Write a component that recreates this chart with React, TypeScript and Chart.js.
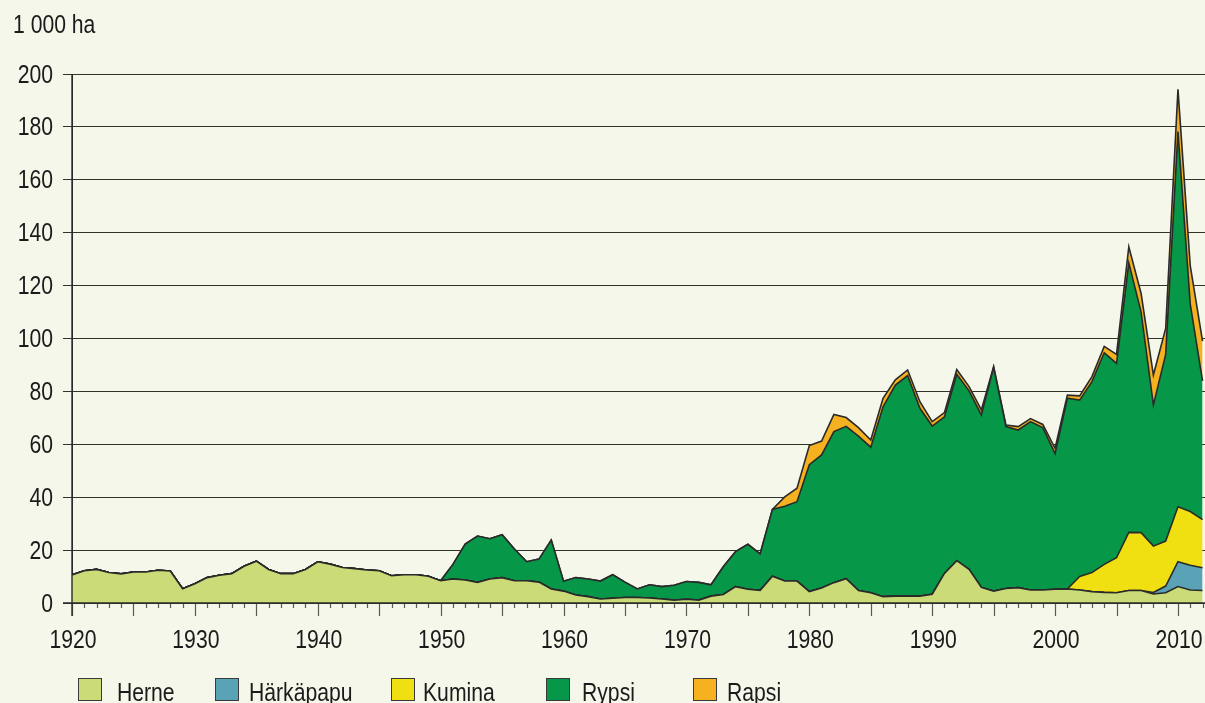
import { useEffect, useRef } from 'react';
import { Chart, registerables } from 'chart.js';

Chart.register(...registerables);

// ---------- data ----------
const FIRST_YEAR = 1920;
const LAST_YEAR = 2012;
const years: number[] = [];
for (let y = FIRST_YEAR; y <= LAST_YEAR; y++) years.push(y);

const seriesNames = ['Herne', 'Härkäpapu', 'Kumina', 'Rypsi', 'Rapsi'];
const seriesColors = ['#cbdb78', '#5aa3b7', '#f0e011', '#069748', '#f5b11f'];

// 1 000 ha, 1920–2012
const herne = [
  10.6, 12.2, 12.7, 11.5, 11.0, 11.7, 11.7, 12.4, 12.1, 5.4,
  7.3, 9.6, 10.5, 11.1, 13.9, 15.8, 12.7, 11.1, 11.1, 12.7,
  15.6, 14.7, 13.4, 13.0, 12.5, 12.2, 10.3, 10.7, 10.7, 10.1,
  8.4, 9.1, 8.7, 7.8, 9.1, 9.6, 8.4, 8.4, 7.9, 5.3,
  4.5, 3.0, 2.4, 1.5, 1.8, 2.1, 2.1, 1.9, 1.5, 1.1,
  1.4, 1.1, 2.6, 3.2, 6.2, 5.2, 4.8, 10.1, 8.3, 8.3,
  4.3, 5.7, 7.7, 9.2, 4.7, 3.9, 2.4, 2.6, 2.6, 2.6,
  3.3, 11.2, 16.0, 12.7, 5.9, 4.5, 5.5, 5.8, 4.9, 4.9,
  5.2, 5.3, 4.9, 4.3, 4.0, 3.9, 4.7, 4.7, 3.4, 3.9,
  6.2, 4.9, 4.7,
];

// Härkäpapu, 2007–2012
const harkapapuStart = 2007;
const harkapapu = [0, 0.6, 2.5, 9.4, 9.4, 8.6];

// Kumina, 2001–2012
const kuminaStart = 2001;
const kumina = [0, 5.1, 7.2, 10.6, 13.2, 22.0, 21.9, 17.5, 17.0, 20.8, 20.3, 18.2];

// Rypsi, 1950–2012
const rypsiStart = 1950;
const rypsi = [
  0, 5.5, 13.6, 17.5, 15.2, 16.2, 12.0, 7.2, 8.7, 18.5,
  3.7, 6.6, 6.7, 6.8, 8.9, 5.8, 3.2, 5.0, 4.7, 5.6,
  6.7, 6.7, 4.3, 10.5, 13.2, 17.0, 13.8, 25.3, 28.3, 30.0,
  48.0, 50.3, 57.1, 57.6, 58.4, 55.0, 71.8, 79.8, 83.4, 71.0,
  63.6, 59.2, 70.5, 67.5, 65.2, 84.6, 61.2, 59.6, 63.7, 61.4,
  51.3, 72.1, 66.7, 72.2, 80.0, 73.5, 101.9, 83.4, 53.4, 70.6,
  141.8, 78.4, 52.5,
];

// Rapsi, 1977–2012
const rapsiStart = 1977;
const rapsi = [
  0, 3.5, 5.1, 7.2, 5.2, 6.5, 3.3, 3.2, 2.7, 3.2,
  2.0, 2.1, 2.5, 1.7, 1.6, 1.8, 1.6, 1.9, 0.3, 0.6,
  1.3, 1.1, 1.2, 2.0, 1.2, 1.6, 1.9, 2.4, 3.4, 6.1,
  7.0, 11.3, 9.8, 16.0, 14.5, 15.0,
];

const yTickValues = [0, 20, 40, 60, 80, 100, 120, 140, 160, 180, 200];
const xTickValues = [1920, 1930, 1940, 1950, 1960, 1970, 1980, 1990, 2000, 2010];
const unitLabel = '1 000 ha';

// ---------- helpers ----------
const FONT = "'Liberation Sans', Arial, sans-serif";
const FONT_SIZE = 25.5;
const CONDENSE = 0.83;
const TEXT = '#1b1b1b';
const LINE = '#2a2a2a';
const BG = '#f4f7e9';

function toPoints(values: number[], start: number) {
  return years.map((yr) => {
    const idx = yr - start;
    const v = idx >= 0 && idx < values.length ? values[idx] : 0;
    return { x: yr, y: v };
  });
}

function drawText(ctx: CanvasRenderingContext2D, text: string, x: number, y: number, align: CanvasTextAlign) {
  ctx.save();
  ctx.translate(x, y);
  ctx.scale(CONDENSE, 1);
  ctx.textAlign = align;
  ctx.textBaseline = 'alphabetic';
  ctx.fillText(text, 0, 0);
  ctx.restore();
}

const decorPlugin = {
  id: 'decor',
  afterDatasetsDraw(chart: any) {
    const { ctx, chartArea, scales } = chart;
    const xs = scales.x;
    const ys = scales.y;
    const y0 = ys.getPixelForValue(0);
    ctx.save();
    // tick marks on x axis
    ctx.strokeStyle = '#5a5a52';
    ctx.lineWidth = 1.2;
    for (const yr of years) {
      const px = Math.round(xs.getPixelForValue(yr)) + 0.5;
      const len = yr % 5 === 0 ? 13 : 5;
      ctx.beginPath();
      ctx.moveTo(px, y0);
      ctx.lineTo(px, y0 + len);
      ctx.stroke();
    }
    // baseline
    ctx.strokeStyle = LINE;
    ctx.lineWidth = 1.4;
    ctx.beginPath();
    ctx.moveTo(chartArea.left - 9, y0);
    ctx.lineTo(chartArea.right, y0);
    ctx.stroke();
    // y axis line
    ctx.beginPath();
    ctx.moveTo(chartArea.left, chartArea.top);
    ctx.lineTo(chartArea.left, y0 + 13);
    ctx.stroke();
    ctx.restore();
  },
  afterDraw(chart: any) {
    const { ctx, scales } = chart;
    const xs = scales.x;
    const ys = scales.y;
    ctx.save();
    ctx.font = `${FONT_SIZE}px ${FONT}`;
    ctx.fillStyle = TEXT;
    // unit label
    drawText(ctx, unitLabel, 13, 33, 'left');
    // y tick labels
    for (const t of ys.ticks) {
      drawText(ctx, String(t.value), 53, ys.getPixelForValue(t.value) + 8.5, 'right');
    }
    // x tick labels
    for (const v of xTickValues) {
      drawText(ctx, String(v), xs.getPixelForValue(v) + 1, 648, 'center');
    }
    // legend
    const boxX = [78, 215, 391, 546, 693];
    const textX = [117, 249, 423, 582, 727];
    chart.data.datasets.forEach((ds: any, i: number) => {
      ctx.fillStyle = ds.backgroundColor;
      ctx.fillRect(boxX[i], 678, 24, 23);
      ctx.strokeStyle = '#3a3a3a';
      ctx.lineWidth = 1;
      ctx.strokeRect(boxX[i] + 0.5, 678.5, 23, 22);
      ctx.fillStyle = TEXT;
      drawText(ctx, ds.label, textX[i], 700.5, 'left');
    });
    ctx.restore();
  },
};

export default function App() {
  const ref = useRef<HTMLCanvasElement | null>(null);

  useEffect(() => {
    document.body.style.margin = '0';
    document.body.style.background = BG;
    if (!ref.current) return;
    const series = [
      toPoints(herne, FIRST_YEAR),
      toPoints(harkapapu, harkapapuStart),
      toPoints(kumina, kuminaStart),
      toPoints(rypsi, rypsiStart),
      toPoints(rapsi, rapsiStart),
    ];
    const datasets = series.map((data, i) => ({
      label: seriesNames[i],
      data,
      backgroundColor: seriesColors[i],
      borderColor: LINE,
      borderWidth: 1.6,
      fill: i === 0 ? 'origin' : '-1',
      pointRadius: 0,
      tension: 0,
    }));
    const chart = new Chart(ref.current, {
      type: 'line',
      data: { datasets },
      options: {
        responsive: false,
        animation: false,
        devicePixelRatio: 1,
        layout: { padding: { top: 74, left: 0, right: 0, bottom: 0 } },
        plugins: { legend: { display: false }, tooltip: { enabled: false } },
        scales: {
          x: {
            type: 'linear',
            min: FIRST_YEAR,
            max: 2012.2,
            grid: { display: false },
            border: { display: false },
            afterBuildTicks: (s: any) => {
              s.ticks = xTickValues.map((v) => ({ value: v }));
            },
            afterFit: (s: any) => {
              s.height = 100;
            },
            ticks: { display: false },
          },
          y: {
            stacked: true,
            min: 0,
            max: 200,
            afterBuildTicks: (s: any) => {
              s.ticks = yTickValues.map((v) => ({ value: v }));
            },
            afterFit: (s: any) => {
              s.width = 72;
            },
            grid: { color: '#33332d', lineWidth: 1, tickLength: 9, drawTicks: true },
            border: { display: true, color: LINE },
            ticks: { display: false },
          },
        },
      },
      plugins: [decorPlugin],
    } as any);
    return () => chart.destroy();
  }, []);

  return (
    <div style={{ width: 1205, height: 703, background: BG }}>
      <canvas ref={ref} width={1205} height={703} style={{ display: 'block' }} />
    </div>
  );
}
